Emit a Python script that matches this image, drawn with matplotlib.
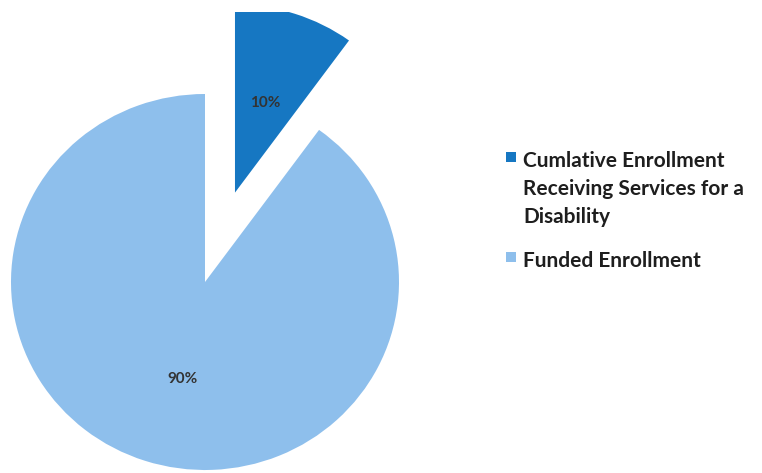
import matplotlib.pyplot as plt
from matplotlib.patches import Rectangle

labels = ['Cumlative Enrollment\nReceiving Services for a\nDisability', 'Funded Enrollment']
shares = [10, 90]
colors = ['#1677C2', '#8EBFEC']

W, H = 762, 473
fig = plt.figure(figsize=(W / 100, H / 100), dpi=100)
# axes covers the left part; pie is stretched a bit like the scanned original
ax = fig.add_axes([0, 0, 470 / W, 461 / H])

wedges, texts, autotexts = ax.pie(
    shares, colors=colors, startangle=90, counterclock=False,
    explode=[0.5, 0], autopct='%1.0f%%', pctdistance=0.5,
    wedgeprops=dict(linewidth=0),
    textprops=dict(color='#333333', fontsize=11, family='Lato', weight='bold'))
for w in wedges:
    w.set_clip_on(True)
# the 90% label sits a little lower / right in the original
x, y = autotexts[1].get_position()
autotexts[1].set_position((x + 0.04, y - 0.04))

ax.set_aspect('auto')
ax.set_xlim(-205 / 194, 265 / 194)
ax.set_ylim(-191 / 188, 270 / 188)
ax.axis('off')

# legend drawn by hand so the square sits on the first text line
tops = [152, 252]
for lab, col, top in zip(labels, colors, tops):
    fig.patches.append(Rectangle((506 / W, 1 - (top + 10) / H), 10 / W, 10 / H,
                                 transform=fig.transFigure, facecolor=col,
                                 edgecolor='none'))
    for i, line in enumerate(lab.split('\n')):
        fig.text(523 / W, 1 - (top + 15 + 28 * i) / H, line, ha='left',
                 va='baseline', family='Lato', weight='bold', fontsize=15,
                 color='#1e1e1e')

fig.savefig('out.png', dpi=100)
